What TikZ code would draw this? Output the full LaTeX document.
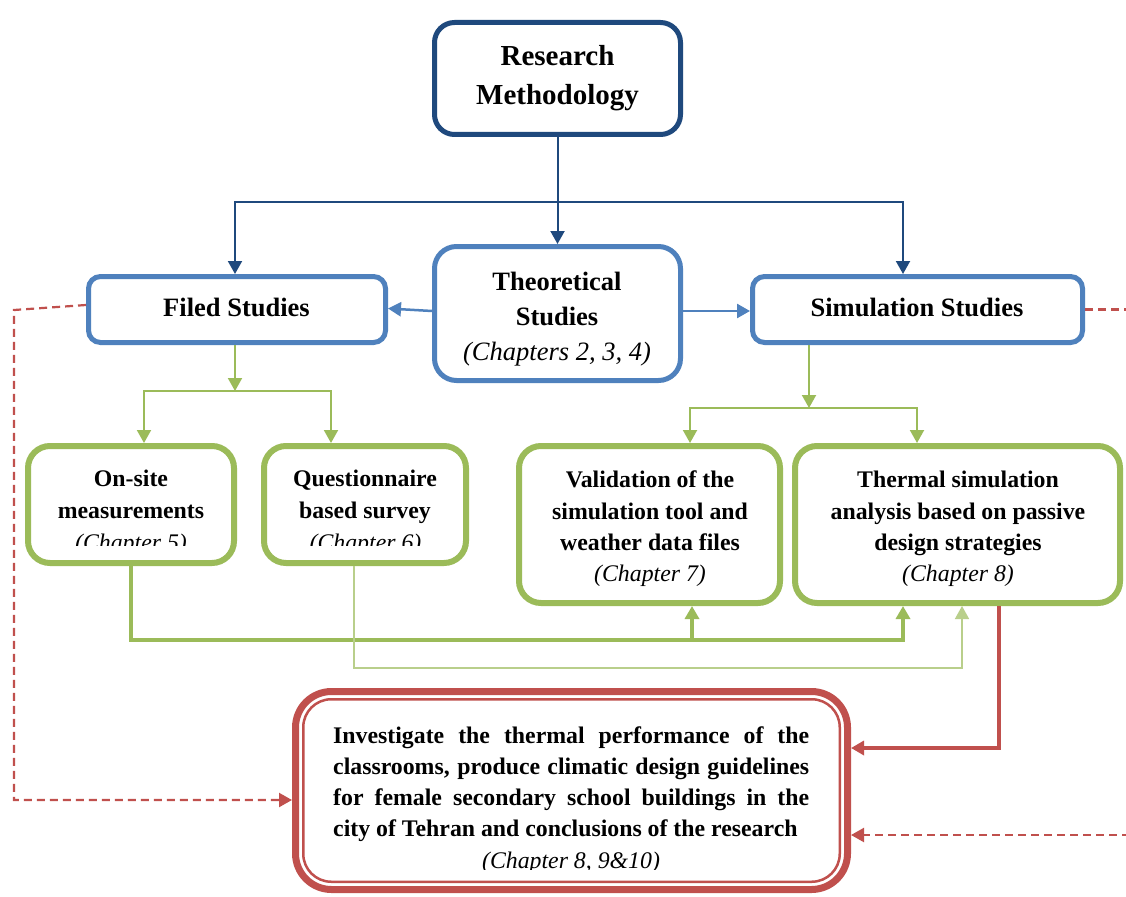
\documentclass[tikz,border=0pt]{standalone}
\usepackage{fontspec}
\setmainfont{Liberation Serif}
\usetikzlibrary{arrows.meta,calc}
\definecolor{dblue}{HTML}{1F497D}
\definecolor{mblue}{HTML}{4F81BD}
\definecolor{ogreen}{HTML}{9BBB59}
\definecolor{lgreen}{HTML}{B9CF8B}
\definecolor{ored}{HTML}{C0504D}
\begin{document}
\begin{tikzpicture}[x=1pt,y=-1pt,
  every node/.style={inner sep=0pt},
  tipA/.style={-{Triangle[length=13pt,width=14pt]}},
  tipB/.style={{Triangle[length=13pt,width=14pt]}-{Triangle[length=13pt,width=14pt]}},
  rmbox/.style={draw=dblue, line width=5pt, rounded corners=20pt, fill=white, minimum width=246pt, minimum height=112pt},
  tsbox/.style={draw=mblue, line width=5pt, rounded corners=22pt, fill=white, minimum width=246pt, minimum height=134pt},
  sbox/.style={draw=mblue, line width=5pt, rounded corners=12pt, fill=white, minimum height=66pt},
  gbox/.style={draw=ogreen, line width=6pt, rounded corners=22pt, fill=white},
  resbox/.style={draw=ored, line width=7pt, rounded corners=36pt, fill=white, minimum width=552pt, minimum height=198pt},
  ttop/.style={font=\fontsize{29}{35}\selectfont\bfseries, anchor=base},
  tmid/.style={font=\fontsize{26.5}{32}\selectfont\bfseries, anchor=base},
  tmidit/.style={font=\fontsize{26.5}{32}\selectfont\itshape, anchor=base},
  tsm/.style={font=\fontsize{23.8}{30}\selectfont\bfseries, anchor=base},
  tsmit/.style={font=\fontsize{23.8}{30}\selectfont\itshape, anchor=base},
  tleft/.style={tsm, anchor=base west},
  dconn/.style={draw=dblue, line width=2pt},
  bconn/.style={draw=mblue, line width=2.5pt},
  gconn/.style={draw=ogreen, line width=2pt},
  gthick/.style={draw=ogreen, line width=4pt},
  gthin/.style={draw=lgreen, line width=1.6pt},
  rconn/.style={draw=ored, line width=3.5pt},
  rdash/.style={draw=ored, line width=2.2pt, dash pattern=on 8pt off 5pt}
]
\useasboundingbox (0,0) rectangle (1126,896);
\fill[white] (0,0) rectangle (1126,896);
\clip (0,0) rectangle (1126,896);

% boxes
\node[rmbox] (RM) at (557.5,78.5) {};
\node[tsbox] (TS) at (557.5,313.5) {};
\node[sbox, minimum width=297pt] (FS) at (237,309.5) {};
\node[sbox, minimum width=330pt] (SS) at (917.5,309.5) {};
\node[gbox, minimum width=206pt, minimum height=117pt] (OS) at (131,504.5) {};
\node[gbox, minimum width=202pt, minimum height=117pt] (QS) at (365,504.5) {};
\node[gbox, minimum width=261pt, minimum height=157pt] (VD) at (649.5,524.5) {};
\node[gbox, minimum width=325pt, minimum height=157pt] (TH) at (957.5,524.5) {};
\node[resbox] (BB) at (571.5,790.5) {};
\draw[ored, line width=2.5pt, rounded corners=28pt]
  ($(BB.north west)+(11.25,11.25)$) rectangle ($(BB.south east)+(-11.25,-11.25)$);

% texts
\node[ttop] (rm1) at (557.5,66) {Research};
\node[ttop] (rm2) at (557.5,105) {Methodology};
\node[tmid] (ts1) at (557,290) {Theoretical};
\node[tmid] (ts2) at (557,325) {Studies};
\node[tmidit] (ts3) at (557,360) {(Chapters 2, 3, 4)};
\node[tmid] (fs1) at (236.5,316.7) {Filed Studies};
\node[tmid] (ss1) at (917,316.7) {Simulation Studies};
\node[tsm] (os1) at (131,486.7) {On-site};
\node[tsm] (os2) at (131,518.3) {measurements};
\node[tsm] (qs1) at (365,486.7) {Questionnaire};
\node[tsm] (qs2) at (365,518.3) {based survey};
\begin{scope}
  \clip (25,525) rectangle (470,545);
  \node[tsmit] (os3) at (131,550) {(Chapter 5)};
  \node[tsmit] (qs3) at (365.5,550) {(Chapter 6)};
\end{scope}
\node[tsm] (vd1) at (650,487.3) {Validation of the};
\node[tsm] (vd2) at (650,519.3) {simulation tool and};
\node[tsm] (vd3) at (650,550.5) {weather data files};
\node[tsmit] (vd4) at (650,581.7) {(Chapter 7)};
\node[tsm] (th1) at (958,487.3) {Thermal simulation};
\node[tsm] (th2) at (958,519.3) {analysis based on passive};
\node[tsm] (th3) at (958,550.5) {design strategies};
\node[tsmit] (th4) at (958,581.7) {(Chapter 8)};
\node[tleft] (bt1) at (333,743.3) {\makebox[476pt][s]{Investigate the thermal performance of the}};
\node[tleft] (bt2) at (333,774.4) {\makebox[476pt][s]{classrooms, produce climatic design guidelines}};
\node[tleft] (bt3) at (333,805.5) {\makebox[476pt][s]{for female secondary school buildings in the}};
\node[tleft] (bt4) at (333,836.7) {city of Tehran and conclusions of the research};
\begin{scope}
  \clip (300,845) rectangle (840,869.5);
  \node[tsmit] (bt5) at (571,868) {(Chapter 8, 9\&10)};
\end{scope}

% coordinates
\coordinate (bsplit) at (557.5,202);
\coordinate (fsplit) at (235,391);
\coordinate (ssplit) at (809,408);
\coordinate (gb) at (903,640);
\coordinate (gv) at (692,640);
\coordinate (gq) at (962,668);
\coordinate (rs) at (999,748);
\coordinate (dl1) at (14,310);
\coordinate (dl2) at (14,800);
\coordinate (dr1) at (1150,309.5);
\coordinate (dr2) at (1150,835);

% blue connectors
\draw[dconn, tipA] (RM.south) -- (TS.north);
\draw[dconn, tipB] ([xshift=-2pt]FS.north) |- (bsplit) -| ([xshift=-14.5pt]SS.north);
\draw[bconn, tipA] ([yshift=2.5pt]TS.west) -- ([yshift=1pt]FS.east);
\draw[bconn, tipA] ([yshift=2.5pt]TS.east) -- ([yshift=-1.5pt]SS.west);

% green connectors
\draw[gconn, tipA] ([xshift=-2pt]FS.south) -- (fsplit);
\draw[gconn, tipB] ([xshift=13pt]OS.north) |- (fsplit) -| ([xshift=-34pt]QS.north);
\draw[gconn, tipA] (SS.south -| ssplit) -- (ssplit);
\draw[gconn, tipB] ([xshift=40.5pt]VD.north) |- (ssplit) -| ([xshift=-40.5pt]TH.north);
\draw[gthick, tipA] (OS.south) |- (gb) -- (TH.south -| gb);
\draw[gthick, tipA] (gv) -- (VD.south -| gv);
\draw[gthin, tipA] ([xshift=-11pt]QS.south) |- (gq) -- (TH.south -| gq);

% red connectors
\draw[rconn, tipA] (TH.south -| rs) -- (rs) -- (BB.east |- rs);
\draw[rdash, tipA] ([yshift=4.5pt]FS.west) -- (dl1) -- (dl2) -- (BB.west |- dl2);
\draw[rdash, tipA] (SS.east) -- (dr1) -- (dr2) -- (BB.east |- dr2);
\end{tikzpicture}
\end{document}
